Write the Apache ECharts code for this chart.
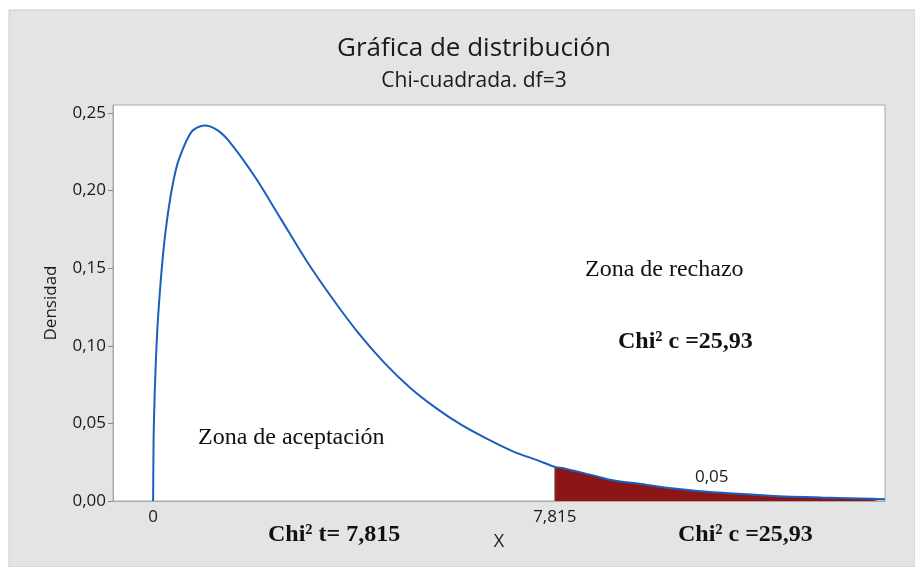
<!DOCTYPE html>
<html>
<head>
<meta charset="utf-8">
<script src="https://cdn.jsdelivr.net/npm/echarts@6/dist/echarts.min.js"></script>
<style>
  html, body { margin: 0; padding: 0; background: #fff; }
  #chart { width: 915px; height: 567px; }
</style>
</head>
<body>
<div id="chart"></div>
<script>
// valores (chi-cuadrada, df=3)
var xVals = [0, 0.01, 0.02, 0.05, 0.1, 0.2, 0.3, 0.4, 0.5, 0.75, 1, 1.25, 1.5, 2, 2.5, 3, 3.5, 4, 4.5, 5,
             5.5, 6, 6.5, 7, 7.5, 7.815, 8, 8.5, 9, 9.5, 10, 10.5, 11, 12, 13, 14, 14.24];
var density = [0, 0.040, 0.056, 0.087, 0.120, 0.161, 0.188, 0.207, 0.220, 0.238, 0.242, 0.239, 0.231, 0.208, 0.181, 0.154, 0.130, 0.108, 0.089, 0.073,
               0.060, 0.049, 0.040, 0.032, 0.026, 0.022, 0.021, 0.017, 0.013, 0.011, 0.0085, 0.0068, 0.0054, 0.0034, 0.0022, 0.0014, 0.0012];
var critical = 7.815;
var xTickValues = [0, 7.815];
var xTickLabels = ['0', '7,815'];
var yTickValues = [0, 0.05, 0.10, 0.15, 0.20, 0.25];
var yTickLabels = ['0,00', '0,05', '0,10', '0,15', '0,20', '0,25'];

var curve = [];
var reject = [];
for (var i = 0; i < xVals.length; i++) {
  curve.push([xVals[i], density[i]]);
  if (xVals[i] >= critical) reject.push([xVals[i], density[i]]);
}

var myChart = echarts.init(document.getElementById('chart'));
var sans = '"Open Sans", "Noto Sans", sans-serif';
var serif = '"Liberation Serif", "DejaVu Serif", serif';

function txt(text, x, y, font, extra) {
  var s = { text: text, x: x, y: y, font: font, fill: '#111', textAlign: 'left', textVerticalAlign: 'middle' };
  for (var k in extra) s[k] = extra[k];
  return { type: 'text', z: 100, style: s };
}

var options = {
  backgroundColor: '#fff',
  animation: false,
  title: [
    { text: 'Gráfica de distribución', left: 469, top: 31, textAlign: 'center',
      textStyle: { fontFamily: sans, fontSize: 26, fontWeight: 'normal', color: '#1a1a1a' } },
    { text: 'Chi-cuadrada. df=3', left: 469, top: 66, textAlign: 'center',
      textStyle: { fontFamily: sans, fontSize: 21, fontWeight: 'normal', color: '#1a1a1a' } }
  ],
  grid: {
    left: 113, top: 105, right: 30, bottom: 66,
    show: true, backgroundColor: '#fff', borderColor: '#a8a8a8', borderWidth: 1
  },
  xAxis: {
    type: 'value', min: -0.78, max: 14.24,
    name: 'X', nameLocation: 'middle', nameGap: 32,
    nameTextStyle: { fontFamily: sans, fontSize: 18, color: '#1a1a1a' },
    axisLine: { show: true, onZero: false, lineStyle: { color: '#a8a8a8' } },
    axisTick: { show: false },
    splitLine: { show: false },
    axisLabel: {
      customValues: xTickValues, margin: 8,
      fontFamily: sans, fontSize: 17, color: '#1a1a1a',
      formatter: function (v) { var j = xTickValues.indexOf(v); return j < 0 ? '' : xTickLabels[j]; }
    }
  },
  yAxis: {
    type: 'value', min: 0, max: 0.2552,
    name: 'Densidad', nameLocation: 'middle', nameGap: 53,
    nameTextStyle: { fontFamily: sans, fontSize: 17, color: '#1a1a1a' },
    axisLine: { show: true, onZero: false, lineStyle: { color: '#a8a8a8' } },
    axisTick: { show: true, customValues: yTickValues, length: 5, lineStyle: { color: '#888' } },
    splitLine: { show: false },
    axisLabel: {
      customValues: yTickValues, margin: 7,
      fontFamily: sans, fontSize: 17, color: '#1a1a1a',
      formatter: function (v) {
        for (var j = 0; j < yTickValues.length; j++) if (Math.abs(v - yTickValues[j]) < 1e-9) return yTickLabels[j];
        return '';
      }
    }
  },
  series: [
    {
      name: 'rechazo', type: 'line', data: reject, smooth: 0.3, showSymbol: false, silent: true,
      lineStyle: { width: 0 }, areaStyle: { color: '#8c1515', opacity: 1 }, z: 1
    },
    {
      name: 'critico', type: 'line', data: [[critical, 0], [critical, density[xVals.indexOf(critical)]]],
      showSymbol: false, silent: true, lineStyle: { color: '#7a7a7a', width: 1 }, z: 2
    },
    {
      name: 'densidad', type: 'line', data: curve, smooth: 0.3, showSymbol: false,
      lineStyle: { color: '#1b5fbd', width: 2 }, itemStyle: { color: '#1b5fbd' }, z: 3
    }
  ],
  graphic: [
    { type: 'rect', z: -10, shape: { x: 9, y: 10, width: 906, height: 557 },
      style: { fill: '#e4e4e4', stroke: '#cdcdcd', lineWidth: 1 } },
    txt('Zona de aceptación', 198, 438, '24px ' + serif),
    txt('Zona de rechazo', 585, 270, '24px ' + serif),
    txt('Chi² c =25,93', 618, 342, 'bold 24px ' + serif),
    txt('Chi² t= 7,815', 268, 535, 'bold 24px ' + serif),
    txt('Chi² c =25,93', 678, 535, 'bold 24px ' + serif),
    txt('0,05', 695, 477, '17px ' + sans, { fill: '#1a1a1a' })
  ]
};

myChart.setOption(options);
</script>
</body>
</html>
